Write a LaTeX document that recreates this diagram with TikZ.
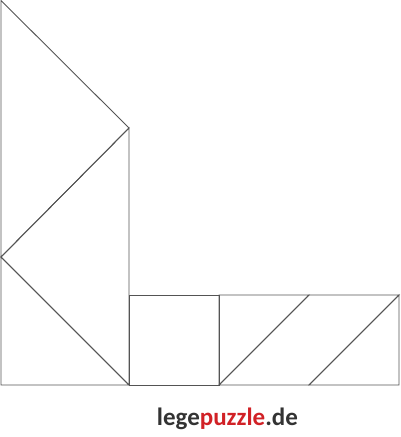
\documentclass[tikz,border=0pt]{standalone}
\usepackage{fontspec}
\setmainfont{Carlito}
\usetikzlibrary{positioning}
\definecolor{edgegray}{rgb}{0.33,0.33,0.33}
\definecolor{textgray}{rgb}{0.2,0.2,0.2}
\definecolor{puzzlered}{rgb}{0.82,0.13,0.15}
\begin{document}
\begin{tikzpicture}
	    [x=1pt, y=-1pt,
	    piece/.style={draw=edgegray, line width=0.9pt, line join=miter},
	    logo/.style={font=\bfseries\fontsize{25}{30}\selectfont, inner sep=0pt}]
	     \useasboundingbox (0,0) rectangle (400,437);
	     % corners of the pieces
	     \coordinate (T) at (1, 0.5);
	     \coordinate (M) at (129, 128);
	     \coordinate (L) at (1, 257);
	     \coordinate (BL) at (1, 385);
	     \coordinate (BM) at (129, 385);
	     \coordinate (S1) at (129, 295);
	     \coordinate (S2) at (219, 295);
	     \coordinate (S3) at (219, 385);
	     \coordinate (P1) at (309, 295);
	     \coordinate (P2) at (309, 385);
	     \coordinate (R1) at (399, 295);
	     \coordinate (R2) at (399, 385);
	     % big triangles
	     \draw[piece] (T) -- (M) -- (L) -- cycle;
	     \draw[piece] (L) -- (M) -- (BM) -- cycle;
	     \draw[piece] (L) -- (BM) -- (BL) -- cycle;
	     % square
	     \draw[piece] (S1) -- (S2) -- (S3) -- (BM) -- cycle;
	     % parallelogram and small triangles
	     \draw[piece] (S2) -- (P1) -- (S3) -- cycle;
	     \draw[piece] (P1) -- (R1) -- (P2) -- (S3) -- cycle;
	     \draw[piece] (R1) -- (R2) -- (P2) -- cycle;
	     \node[logo] (web) at (227.5, 419) {\textcolor{textgray}{lege}\textcolor{puzzlered}{puzzle}\textcolor{textgray}{.de}};
	\end{tikzpicture}
\end{document}
